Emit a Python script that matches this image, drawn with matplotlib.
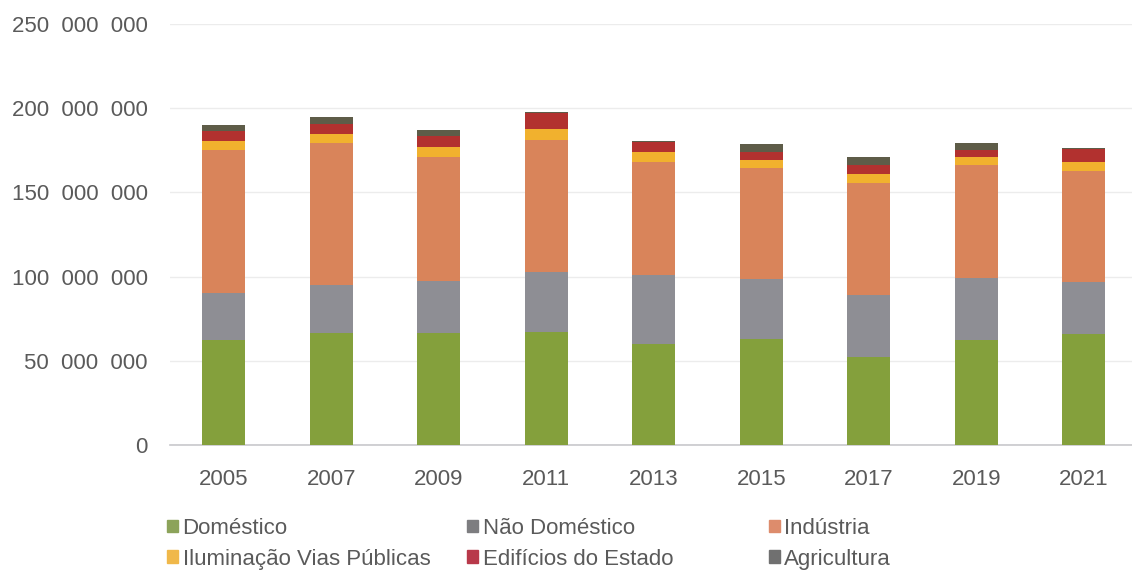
import matplotlib.pyplot as plt
from matplotlib.patches import Patch
import numpy as np

years = ["2005", "2007", "2009", "2011", "2013", "2015", "2017", "2019", "2021"]

# consumo por setor (milhões)
domestico = [62.5, 66.3, 66.7, 67.3, 60.0, 63.0, 52.0, 62.3, 65.9]
nao_domestico = [27.8, 28.7, 30.9, 35.6, 41.0, 35.6, 37.0, 36.7, 31.1]
industria = [85.0, 84.1, 73.6, 78.2, 67.2, 65.7, 66.4, 67.3, 65.9]
iluminacao = [5.0, 5.9, 5.9, 6.4, 6.0, 4.9, 5.5, 4.5, 5.0]
edificios = [6.0, 5.6, 6.4, 9.5, 5.9, 5.0, 5.4, 4.4, 7.7]
agricultura = [4.0, 4.4, 3.5, 0.5, 0.5, 4.5, 4.5, 3.9, 0.5]

series = [
    ("Doméstico", domestico, "#84a03c"),
    ("Não Doméstico", nao_domestico, "#8e8e94"),
    ("Indústria", industria, "#d9845a"),
    ("Iluminação Vias Públicas", iluminacao, "#f1b12e"),
    ("Edifícios do Estado", edificios, "#b2312f"),
    ("Agricultura", agricultura, "#5e5c48"),
]
legend_colors = ["#8ca35a", "#7d7d80", "#dd8c6c", "#f0b84a", "#b8394a", "#707070"]

plt.rcParams["font.family"] = ["Liberation Sans", "DejaVu Sans"]
text_color = "#5a5a5a"

fig = plt.figure(figsize=(11.32, 5.73), dpi=100)
ax = fig.add_axes([0.1502, 0.2234, 0.8547, 0.7346])

x = np.arange(len(years))
bottom = np.zeros(len(years))
for name, vals, color in series:
    v = np.array(vals) * 1e6
    ax.bar(x, v, width=0.4, bottom=bottom, color=color, zorder=3)
    bottom += v

ax.set_xlim(-0.5, len(years) - 0.5)
ax.set_ylim(0, 250e6)
yt = np.arange(0, 250e6 + 1, 50e6)
ax.set_yticks(yt)
ax.set_yticklabels(["{:,}".format(int(t)).replace(",", "  ") for t in yt])
ax.set_xticks(x)
ax.set_xticklabels(years)

ax.yaxis.grid(True, color="#ececec", linewidth=1.0, zorder=0)
for s in ["top", "right", "left"]:
    ax.spines[s].set_visible(False)
ax.spines["bottom"].set_color("#c8c8cc")
ax.spines["bottom"].set_linewidth(1.2)
ax.tick_params(axis="both", length=0, labelsize=16, labelcolor=text_color)
ax.tick_params(axis="x", pad=17)
ax.tick_params(axis="y", pad=16)

# legenda: três colunas de largura igual, duas linhas
cols = [(0, 3), (1, 4), (2, 5)]
col_x = [0.1475, 0.4125, 0.679]
for (a, b), cx in zip(cols, col_x):
    handles = [Patch(color=legend_colors[i], label=series[i][0]) for i in (a, b)]
    leg = fig.legend(handles=handles, loc="upper left", bbox_to_anchor=(cx, 0.096),
                     frameon=False, fontsize=16, handlelength=0.5, handleheight=0.5,
                     handletextpad=0.2, labelspacing=0.43, borderaxespad=0, borderpad=0)
    for t in leg.get_texts():
        t.set_color(text_color)

fig.savefig("out.png", dpi=100)
